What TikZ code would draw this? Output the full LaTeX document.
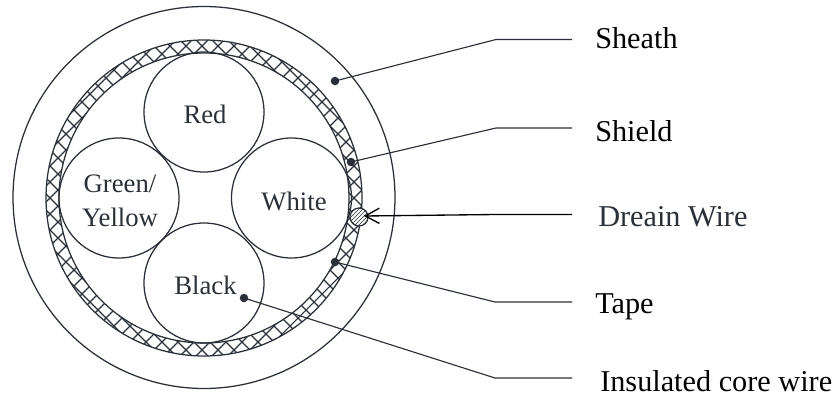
\documentclass[tikz,border=0pt]{standalone}
\usepackage{fontspec}
\setmainfont{Liberation Serif}
\usetikzlibrary{patterns,arrows.meta}
\definecolor{ink}{HTML}{2B3038}
\tikzset{
  px/.style={x=0.75pt,y=-0.75pt},
  ring/.style={draw=ink,line width=0.95pt,circle,inner sep=0pt},
  core/.style={ring,minimum size=90pt},
  corelab/.style={align=center,font=\fontsize{20}{25}\selectfont,text=ink,inner sep=0pt},
  dotn/.style={circle,fill=ink,inner sep=0pt,minimum size=6.4pt},
  leader/.style={draw=ink,line width=0.85pt},
  lab/.style={anchor=base west,font=\fontsize{22.7}{26}\selectfont,inner sep=0pt},
}
\begin{document}
\begin{tikzpicture}[px]
\useasboundingbox (0,0) rectangle (840,396);
\node[ring,minimum size=286.5pt] (sheath) at (204,197.5) {};
\begin{scope}[even odd rule]
  \clip (204,198) circle[radius=118.5pt] (204,198) circle[radius=108.75pt];
  \foreach \k in {-40,...,60} {
    \draw[ink,line width=0.8pt] (-20,{248+16*\k+20}) -- (420,{248+16*\k-420});
    \draw[ink,line width=0.8pt] (-20,{-20-156-16*\k}) -- (420,{420-156-16*\k});
  }
\end{scope}
\node[ring,minimum size=237pt] (shield) at (204,198) {};
\node[ring,minimum size=217.5pt] (tape) at (204,198) {};
\node[core] (red) at (204,112) {};
\node[core] (green) at (119,198) {};
\node[core] (white) at (291.5,198) {};
\node[core] (black) at (204,283) {};
\node[corelab] (tred) at (205,114.5) {Red};
\node[corelab] (tgreen) at (120,201) {Green/\\[0.6pt]Yellow};
\node[corelab] (twhite) at (294,201) {White};
\node[corelab] (tblack) at (205.5,285) {Black};
\node[ring,minimum size=13.5pt,preaction={fill=white},pattern=north east lines,pattern color=ink] (drain) at (359,217) {};
\node[dotn] (dsheath) at (335,81) {};
\node[dotn] (dshield) at (351,162) {};
\node[dotn] (dtape) at (335,262) {};
\node[dotn] (dcore) at (244,298) {};
\node[lab,text=black] (lsheath) at (595,48) {Sheath};
\node[lab,text=black] (lshield) at (595,141) {Shield};
\node[lab,text=ink] (ldrain) at (598,226) {Dreain Wire};
\node[lab,text=black] (ltape) at (595,313) {Tape};
\node[lab,text=black] (lcore) at (600,391) {Insulated core wire};
\coordinate (k1) at (496,39.5); \coordinate (e1) at (572,39.5);
\coordinate (k2) at (496,128); \coordinate (e2) at (572,128);
\coordinate (k3) at (496,214.5); \coordinate (e3) at (572,214.5);
\coordinate (k4) at (495,302); \coordinate (e4) at (572,302);
\coordinate (k5) at (495,378); \coordinate (e5) at (572,378);
\coordinate (tip) at (364,216);
\draw[leader] (dsheath.center) -- (k1) -- (e1);
\draw[leader] (dshield.center) -- (k2) -- (e2);
\draw[leader] (dtape.center) -- (k4) -- (e4);
\draw[leader] (dcore.center) -- (k5) -- (e5);
\draw[leader,draw=black,line width=1pt,{Straight Barb[length=10.5pt,width=11.5pt]}-] (tip) -- (k3) -- (e3);
\end{tikzpicture}
\end{document}
